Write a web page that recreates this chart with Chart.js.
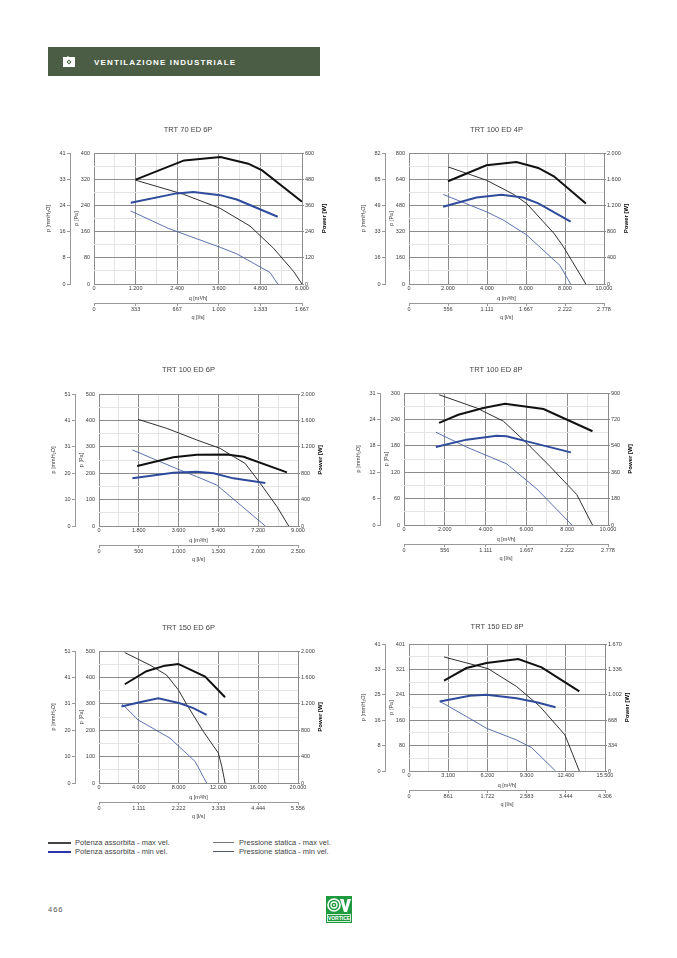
<!DOCTYPE html>
<html>
<head>
<meta charset="utf-8">
<script src="https://cdn.jsdelivr.net/npm/chart.js@4.4.1/dist/chart.umd.min.js"></script>
<style>
  body { margin: 0; background: #fff; width: 677px; height: 958px; position: relative; overflow: hidden;
         font-family: "Liberation Sans", Arial, sans-serif; }
  .band { position: absolute; left: 48px; top: 47px; width: 272px; height: 29px; background: #4b5e45; }
  .band span { position: absolute; left: 46px; top: 1px; line-height: 29px; color: #fff; font-weight: bold;
               font-size: 8px; letter-spacing: 1.15px; }
  .band svg { position: absolute; left: 15px; top: 9px; }
  canvas { position: absolute; }
  .lg { position: absolute; font-size: 7.5px; color: #444; line-height: 9px; white-space: nowrap; }
  .ln { position: absolute; }
  .page { position: absolute; left: 48px; top: 905px; font-size: 7.5px; color: #555; letter-spacing: 1px; }
  .logo { position: absolute; left: 326px; top: 896px; }
</style>
</head>
<body>
<div class="band">
  <svg width="12" height="11" viewBox="0 0 12 11">
    <path d="M0 1 L4 1 L5 0 L6 1 L12 1 L12 11 L0 11 Z" fill="#fff"/>
    <path d="M6 3.5 L8.5 6 L6 8.5 L3.5 6 Z" fill="#4b5e45"/>
    <circle cx="6" cy="6" r="0.9" fill="#fff"/>
  </svg>
  <span>VENTILAZIONE INDUSTRIALE</span>
</div>

<canvas id="c1"></canvas>
<canvas id="c2"></canvas>
<canvas id="c3"></canvas>
<canvas id="c4"></canvas>
<canvas id="c5"></canvas>
<canvas id="c6"></canvas>

<div class="ln" style="left:48px;top:841.5px;width:23px;height:2px;background:#444"></div>
<div class="lg" style="left:75px;top:838px">Potenza assorbita - max vel.</div>
<div class="ln" style="left:48px;top:850.5px;width:23px;height:2px;background:#2a35a5"></div>
<div class="lg" style="left:75px;top:847px">Potenza assorbita - min vel.</div>
<div class="ln" style="left:213px;top:842px;width:21px;height:1px;background:#777"></div>
<div class="lg" style="left:239px;top:838px">Pressione statica - max vel.</div>
<div class="ln" style="left:213px;top:851px;width:21px;height:1px;background:#555a6a"></div>
<div class="lg" style="left:239px;top:847px">Pressione statica - min vel.</div>

<div class="page">466</div>
<svg class="logo" width="26" height="27" viewBox="0 0 26 27">
  <rect x="0" y="0" width="26" height="27" fill="#1f9a3f"/>
  <circle cx="8" cy="9" r="6" fill="none" stroke="#fff" stroke-width="1.6"/>
  <circle cx="8" cy="9" r="3" fill="none" stroke="#fff" stroke-width="1.3"/>
  <circle cx="8" cy="9" r="0.9" fill="#fff"/>
  <path d="M14 3 L17.5 3 L19.5 11 L21.5 3 L25 3 L21 16 L18 16 Z" fill="#fff"/>
  <rect x="1.5" y="18.5" width="23" height="7" fill="none" stroke="#fff" stroke-width="0.8"/>
  <text x="13" y="24.2" text-anchor="middle" font-family="Liberation Sans, Arial" font-weight="bold" font-size="5" fill="#fff">VORTICE</text>
</svg>

<script>
// TRT 70 ED 6P
const t70Q = ['0', '1.200', '2.400', '3.600', '4.800', '6.000'];
const t70Ls = ['0', '333', '667', '1.000', '1.333', '1.667'];
const t70Pa = ['0', '80', '160', '240', '320', '400'];
const t70Mm = ['0', '8', '16', '24', '33', '41'];
const t70W = ['0', '120', '240', '360', '480', '600'];
const t70PowMax = [[1200, 478], [2600, 566], [3650, 582], [4450, 551], [4850, 520], [6000, 377]];
const t70PowMin = [[1060, 372], [2380, 415], [2870, 421], [3640, 407], [4120, 387], [5300, 308]];
const t70PresMax = [[1200, 317], [2580, 274], [3640, 231], [4500, 177], [5180, 109], [5760, 38], [6000, 0]];
const t70PresMin = [[1060, 223], [2140, 170], [3640, 112], [4120, 92], [5080, 35], [5300, 0]];

// TRT 100 ED 4P
const t104Q = ['0', '2.000', '4.000', '6.000', '8.000', '10.000'];
const t104Ls = ['0', '556', '1.111', '1.667', '2.222', '2.778'];
const t104Pa = ['0', '160', '320', '480', '640', '800'];
const t104Mm = ['0', '16', '33', '49', '65', '82'];
const t104W = ['0', '400', '800', '1.200', '1.600', '2.000'];
const t104PowMax = [[2000, 1569], [3970, 1812], [5510, 1863], [6630, 1772], [7430, 1645], [9070, 1230]];
const t104PowMin = [[1750, 1180], [3460, 1321], [4740, 1362], [5860, 1321], [6630, 1230], [8290, 952]];
const t104PresMax = [[2000, 715], [3970, 634], [5340, 549], [6030, 492], [7430, 310], [7910, 229], [9070, 0]];
const t104PresMin = [[1750, 547], [3970, 441], [4830, 391], [6030, 300], [7740, 113], [8290, 0]];

// TRT 100 ED 6P
const t106Q = ['0', '1.800', '3.600', '5.400', '7.200', '9.000'];
const t106Ls = ['0', '500', '1.000', '1.500', '2.000', '2.500'];
const t106Pa = ['0', '100', '200', '300', '400', '500'];
const t106Mm = ['0', '10', '20', '31', '41', '51'];
const t106W = ['0', '400', '800', '1.200', '1.600', '2.000'];
const t106PowMax = [[1730, 909], [3360, 1040], [4420, 1081], [5780, 1085], [6540, 1050], [8500, 813]];
const t106PowMin = [[1510, 722], [3360, 808], [4420, 823], [5180, 798], [6080, 722], [7520, 651]];
const t106PresMax = [[1770, 404], [3060, 370], [4420, 326], [5480, 294], [6080, 263], [6610, 237], [7290, 162], [8050, 73], [8580, 0]];
const t106PresMin = [[1510, 288], [3660, 212], [4420, 187], [5330, 155], [6390, 80], [7520, 0]];

// TRT 100 ED 8P
const t108Q = ['0', '2.000', '4.000', '6.000', '8.000', '10.000'];
const t108Ls = ['0', '556', '1.111', '1.667', '2.222', '2.778'];
const t108Pa = ['0', '60', '120', '180', '240', '300'];
const t108Mm = ['0', '6', '12', '18', '24', '31'];
const t108W = ['0', '180', '360', '540', '720', '900'];
const t108PowMax = [[1720, 696], [2660, 752], [3890, 798], [4950, 827], [6840, 791], [9240, 639]];
const t108PowMin = [[1560, 532], [3070, 582], [4540, 609], [5030, 605], [6020, 570], [7000, 536], [8180, 495]];
const t108PresMax = [[1720, 296], [3560, 266], [4870, 236], [6020, 186], [7160, 133], [8470, 69], [9240, 0]];
const t108PresMin = [[1560, 211], [3070, 177], [5030, 139], [6510, 82], [8230, 0]];

// TRT 150 ED 6P
const t156Q = ['0', '4.000', '8.000', '12.000', '16.000', '20.000'];
const t156Ls = ['0', '1.111', '2.222', '3.333', '4.444', '5.556'];
const t156Pa = ['0', '100', '200', '300', '400', '500'];
const t156Mm = ['0', '10', '20', '31', '41', '51'];
const t156W = ['0', '400', '800', '1.200', '1.600', '2.000'];
const t156PowMax = [[2590, 1496], [4770, 1693], [6620, 1778], [7970, 1804], [10660, 1612], [12670, 1300]];
const t156PowMin = [[2250, 1159], [4100, 1224], [5950, 1285], [8130, 1209], [9480, 1134], [10820, 1033]];
const t156PresMax = [[2590, 494], [5110, 447], [6790, 409], [7970, 353], [8810, 298], [10490, 195], [12000, 113], [12340, 63], [12670, 0]];
const t156PresMin = [[2250, 302], [3930, 239], [7130, 170], [9650, 82], [10820, 0]];

// TRT 150 ED 8P
const t158Q = ['0', '3.100', '6.200', '9.300', '12.400', '15.500'];
const t158Ls = ['0', '861', '1.722', '2.583', '3.444', '4.306'];
const t158Pa = ['0', '80', '160', '241', '321', '401'];
const t158Mm = ['0', '8', '16', '25', '33', '41'];
const t158W = ['0', '334', '668', '1.002', '1.336', '1.670'];
const t158PowMax = [[2770, 1187], [4540, 1354], [6130, 1420], [8640, 1472], [10490, 1362], [13470, 1046]];
const t158PowMin = [[2430, 914], [4810, 989], [6130, 1002], [8500, 958], [10090, 905], [11590, 839]];
const t158PresMax = [[2770, 360], [5340, 333], [6260, 323], [8500, 267], [10350, 204], [12330, 114], [13470, 0]];
const t158PresMin = [[2430, 220], [4540, 172], [6130, 135], [8500, 98], [9690, 74], [11590, 0]];

const FONT = '"Liberation Sans", Arial, sans-serif';
const TXT = '#3a3a3a';
const MAJOR = '#8c8c8c';
const MINOR = '#e4e4e4';
const tickFont = { family: FONT, size: 5.5 };

const num = s => Number(s.replace(/\./g, ''));
const steps = (max, n) => Array.from({ length: n + 1 }, (_, i) => ({ value: max * i / n }));
const pts = arr => arr.map(p => ({ x: p[0], y: p[1] }));

// right-hand axis title reads bottom-to-top in the original, so draw it ourselves
const powerTitle = {
  id: 'powerTitle',
  afterDraw(chart) {
    const s = chart.scales.w, a = chart.chartArea, ctx = chart.ctx;
    ctx.save();
    ctx.translate(s.right - 8, (a.top + a.bottom) / 2);
    ctx.rotate(-Math.PI / 2);
    ctx.font = 'bold 6px ' + FONT;
    ctx.fillStyle = '#000';
    ctx.textAlign = 'center';
    ctx.textBaseline = 'middle';
    ctx.fillText('Power [W]', 0, 0);
    ctx.restore();
  }
};

function makeChart(id, box, titleOff, title, q, ls, pa, mm, w, powMax, powMin, presMax, presMin) {
  const [L, T, R, B] = box;
  const cv = document.getElementById(id);
  const cw = R - L + 80, ch = B - T + 73;
  cv.style.left = (L - 50) + 'px';
  cv.style.top = (T - 32) + 'px';
  cv.style.width = cw + 'px';
  cv.style.height = ch + 'px';
  cv.width = cw;
  cv.height = ch;
  const padTop = 32 - titleOff - 4.5;
  const qMax = num(q[5]), paMax = num(pa[5]), wMax = num(w[5]);

  new Chart(cv, {
    type: 'line',
    data: {
      datasets: [
        { data: pts(powMax), yAxisID: 'w', borderColor: '#111', borderWidth: 2 },
        { data: pts(powMin), yAxisID: 'w', borderColor: '#2f4b9c', borderWidth: 2 },
        { data: pts(presMax), yAxisID: 'pa', borderColor: '#1a1a1a', borderWidth: 0.9 },
        { data: pts(presMin), yAxisID: 'pa', borderColor: '#4b62a8', borderWidth: 0.9 }
      ]
    },
    plugins: [powerTitle],
    options: {
      responsive: false,
      animation: false,
      layout: { padding: 0 },
      elements: { point: { radius: 0 }, line: { tension: 0, fill: false } },
      plugins: {
        legend: { display: false },
        tooltip: { enabled: false },
        title: {
          display: true, text: title, color: '#444',
          font: { family: FONT, size: 7.5, weight: 'normal' },
          padding: { top: padTop, bottom: 23 - padTop }
        }
      },
      scales: {
        x: {
          type: 'linear', position: 'bottom', weight: 0, min: 0, max: qMax,
          afterBuildTicks: s => { s.ticks = steps(qMax, 10); },
          afterFit: s => { s.height = 19; },
          ticks: { autoSkip: false, maxRotation: 0, padding: 1, color: TXT, font: tickFont,
                   callback: (v, i) => i % 2 ? '' : q[i / 2] },
          grid: { color: c => c.index % 2 ? MINOR : MAJOR, drawTicks: false },
          border: { display: false },
          title: { display: true, text: 'q [m³/h]', color: TXT, font: tickFont, padding: { top: 0, bottom: 1.5 } }
        },
        ls: {
          type: 'linear', position: 'bottom', weight: 1, min: 0, max: 5,
          afterBuildTicks: s => { s.ticks = steps(5, 5); },
          afterFit: s => { s.height = 22; },
          ticks: { autoSkip: false, maxRotation: 0, padding: 0.5, color: TXT, font: tickFont,
                   callback: (v, i) => ls[i] },
          grid: { drawOnChartArea: false, drawTicks: true, tickLength: 3, color: '#999' },
          border: { display: true, color: '#999' },
          title: { display: true, text: 'q [l/s]', color: TXT, font: tickFont, padding: { top: 0, bottom: 4 } }
        },
        pa: {
          type: 'linear', position: 'left', weight: 0, min: 0, max: paMax,
          afterBuildTicks: s => { s.ticks = steps(paMax, 10); },
          afterFit: s => { s.width = 24; },
          ticks: { autoSkip: false, padding: 4, color: TXT, font: tickFont,
                   callback: (v, i) => i % 2 ? '' : pa[i / 2] },
          grid: { color: c => c.index % 2 ? MINOR : MAJOR, drawTicks: false },
          border: { display: false },
          title: { display: true, text: 'p [Pa]', color: TXT, font: tickFont, padding: { top: 3.6, bottom: 0 } }
        },
        mm: {
          type: 'linear', position: 'left', weight: 1, min: 0, max: 5,
          afterBuildTicks: s => { s.ticks = steps(5, 5); },
          afterFit: s => { s.width = 26; },
          ticks: { autoSkip: false, padding: 1.5, color: TXT, font: tickFont,
                   callback: (v, i) => mm[i] },
          grid: { drawOnChartArea: false, drawTicks: true, tickLength: 3, color: '#999' },
          border: { display: true, color: '#999' },
          title: { display: true, text: 'p [mmH₂O]', color: TXT, font: tickFont, padding: { top: 1.5, bottom: 0 } }
        },
        w: {
          type: 'linear', position: 'right', min: 0, max: wMax,
          afterBuildTicks: s => { s.ticks = steps(wMax, 5); },
          afterFit: s => { s.width = 30; },
          ticks: { autoSkip: false, padding: 1, color: TXT, font: tickFont,
                   callback: (v, i) => w[i] },
          grid: { drawOnChartArea: false, drawTicks: true, tickLength: 2, color: '#888' },
          border: { display: false }
        }
      }
    }
  });
}

makeChart('c1', [94, 153, 302, 284], 22.7, 'TRT 70 ED 6P', t70Q, t70Ls, t70Pa, t70Mm, t70W, t70PowMax, t70PowMin, t70PresMax, t70PresMin);
makeChart('c2', [409, 153, 604, 284], 22.7, 'TRT 100 ED 4P', t104Q, t104Ls, t104Pa, t104Mm, t104W, t104PowMax, t104PowMin, t104PresMax, t104PresMin);
makeChart('c3', [99, 394, 298, 526], 24, 'TRT 100 ED 6P', t106Q, t106Ls, t106Pa, t106Mm, t106W, t106PowMax, t106PowMin, t106PresMax, t106PresMin);
makeChart('c4', [404, 393, 608, 525], 23.3, 'TRT 100 ED 8P', t108Q, t108Ls, t108Pa, t108Mm, t108W, t108PowMax, t108PowMin, t108PresMax, t108PresMin);
makeChart('c5', [99, 651, 298, 783], 23.3, 'TRT 150 ED 6P', t156Q, t156Ls, t156Pa, t156Mm, t156W, t156PowMax, t156PowMin, t156PresMax, t156PresMin);
makeChart('c6', [409, 644, 605, 771], 16.6, 'TRT 150 ED 8P', t158Q, t158Ls, t158Pa, t158Mm, t158W, t158PowMax, t158PowMin, t158PresMax, t158PresMin);
</script>
</body>
</html>
